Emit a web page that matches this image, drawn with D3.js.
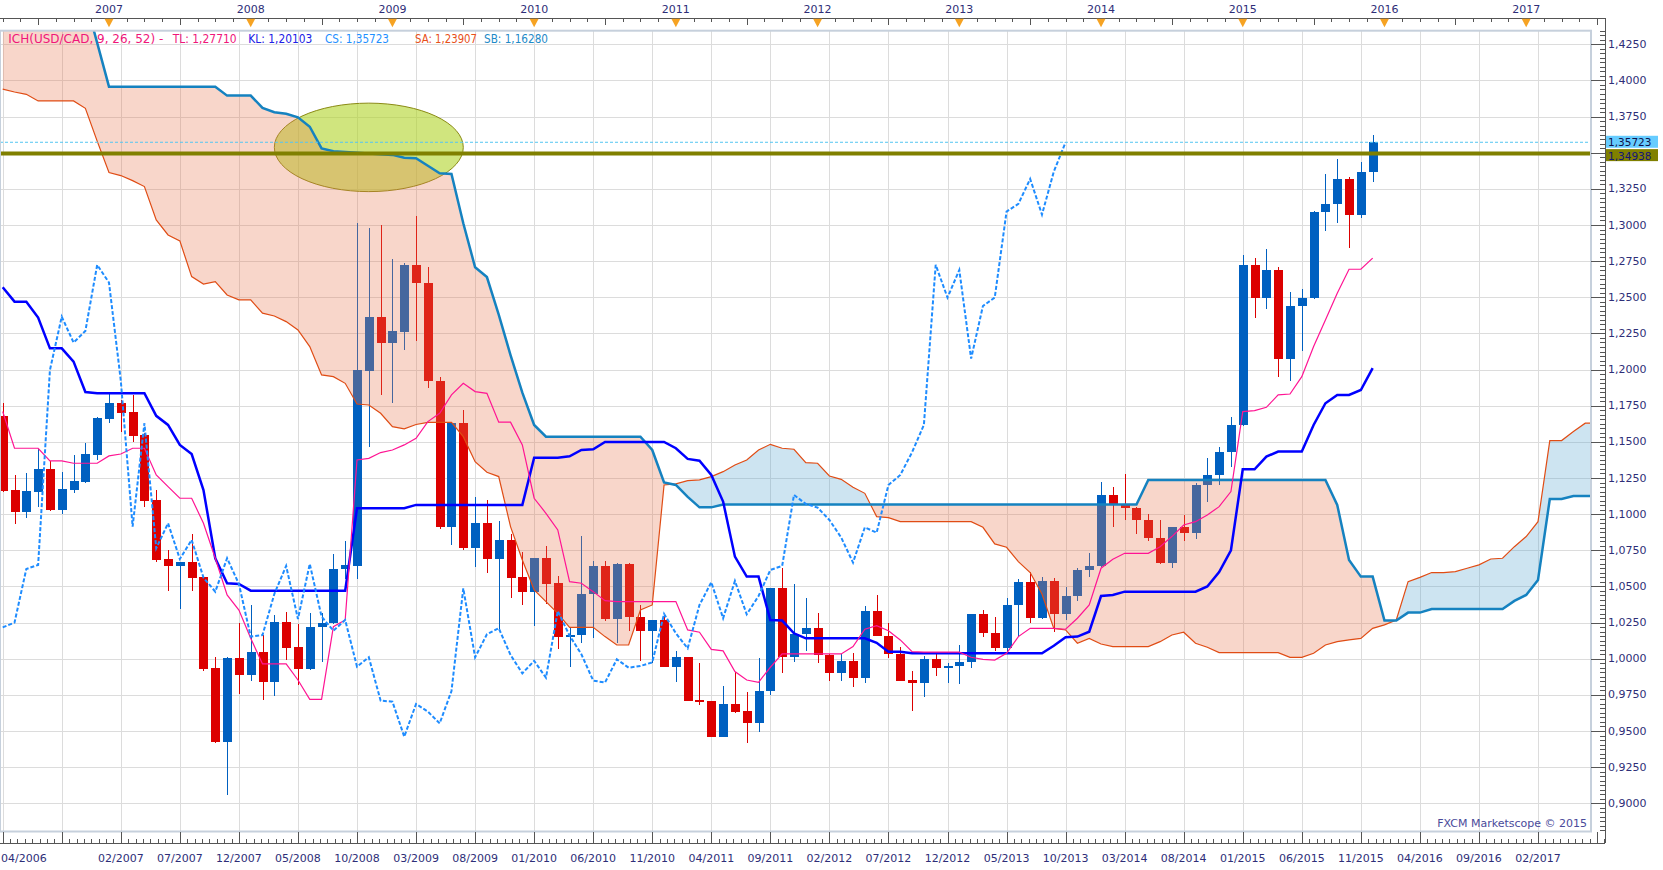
<!DOCTYPE html>
<html><head><meta charset="utf-8">
<script src="https://cdn.jsdelivr.net/npm/d3@7/dist/d3.min.js"></script>
<style>html,body{margin:0;padding:0;background:#fff;}svg{display:block;font-family:"DejaVu Sans",sans-serif;}</style>
</head><body>
<svg id="c" width="1663" height="870"></svg>
<script>
// ---------- DATA (monthly USD/CAD, first candle = 04/2006) ----------
const firstMonth = "04/2006";
const open = [1.1679,1.1167,1.1018,1.1156,1.1313,1.1029,1.1167,1.1225,1.1410,1.1659,
1.1772,1.1707,1.1548,1.1098,1.0690,1.0644,1.0669,1.0563,0.9934,0.9427,
1.0003,0.9888,1.0045,0.9842,1.0252,1.0079,0.9929,1.0217,1.0245,1.0621,
1.0644,1.1993,1.2366,1.2187,1.2263,1.2724,1.2602,1.1924,1.0914,1.1629,
1.0764,1.0937,1.0690,1.0822,1.0568,1.0464,1.0695,1.0522,1.0153,1.0164,
1.0448,1.0642,1.0275,1.0656,1.0291,1.0194,1.0268,0.9945,1.0010,0.9715,
0.9708,0.9461,0.9687,0.9639,0.9553,0.9777,1.0487,1.0010,1.0169,1.0211,
1.0026,0.9899,0.9985,0.9869,1.0330,1.0160,1.0031,0.9853,0.9835,0.9996,
0.9938,0.9950,0.9975,1.0310,1.0176,1.0072,1.0372,1.0529,1.0280,1.0538,
1.0307,1.0434,1.0614,1.0642,1.1133,1.1071,1.1045,1.0960,1.0838,1.0665,
1.0909,1.0872,1.1202,1.1271,1.1428,1.1617,1.2724,1.2498,1.2689,1.2076,
1.2440,1.2498,1.3093,1.3146,1.3319,1.3072,1.3369];
const high = [1.1767,1.1271,1.1283,1.1451,1.1368,1.1294,1.1410,1.1495,1.1670,1.1843,
1.1790,1.1825,1.1560,1.1167,1.0752,1.0672,1.0863,1.0565,1.0015,1.0010,
1.0245,1.0372,1.0164,1.0303,1.0326,1.0238,1.0319,1.0319,1.0725,1.0815,
1.3017,1.2982,1.3001,1.2763,1.2735,1.3063,1.2712,1.1951,1.1640,1.1721,
1.1121,1.1098,1.0953,1.0863,1.0741,1.0700,1.0780,1.0573,1.0222,1.0849,
1.0676,1.0676,1.0665,1.0660,1.0372,1.0268,1.0300,1.0054,1.0012,0.9968,
0.9710,0.9812,0.9911,0.9772,1.0008,1.0490,1.0626,1.0517,1.0418,1.0314,
1.0033,1.0033,1.0042,1.0365,1.0441,1.0250,1.0084,0.9918,1.0019,1.0049,
0.9968,1.0095,1.0310,1.0337,1.0291,1.0418,1.0549,1.0602,1.0568,1.0556,
1.0499,1.0626,1.0729,1.1225,1.1186,1.1278,1.1050,1.1001,1.0960,1.0912,
1.0995,1.1218,1.1386,1.1467,1.1675,1.2793,1.2774,1.2833,1.2708,1.2539,
1.2558,1.3100,1.3353,1.3455,1.3335,1.3438,1.3623];
const low = [1.1150,1.0932,1.0971,1.1048,1.1020,1.1000,1.1149,1.1218,1.1375,1.1629,
1.1571,1.1502,1.1052,1.0672,1.0471,1.0344,1.0471,0.9918,0.9420,0.9058,
0.9756,0.9849,0.9715,0.9745,0.9991,0.9819,0.9925,0.9980,1.0240,1.0552,
1.0552,1.1467,1.1824,1.1767,1.2136,1.2200,1.1871,1.0898,1.0787,1.0752,
1.0637,1.0596,1.0204,1.0423,1.0372,1.0229,1.0379,1.0065,0.9941,1.0107,
1.0146,1.0264,1.0107,1.0194,0.9985,0.9973,0.9941,0.9842,0.9710,0.9680,
0.9457,0.9457,0.9623,0.9415,0.9496,0.9750,0.9899,0.9980,1.0056,0.9973,
0.9846,0.9846,0.9807,0.9835,1.0160,1.0008,0.9849,0.9641,0.9738,0.9883,
0.9830,0.9823,0.9938,1.0153,1.0056,1.0038,1.0153,1.0250,1.0273,1.0187,
1.0268,1.0402,1.0568,1.0637,1.0914,1.0960,1.0863,1.0817,1.0653,1.0626,
1.0817,1.0826,1.1082,1.1202,1.1324,1.1610,1.2359,1.2417,1.1951,1.1924,
1.2131,1.2490,1.2961,1.3017,1.2839,1.3047,1.3300];
const close = [1.1163,1.1018,1.1160,1.1313,1.1029,1.1174,1.1230,1.1416,1.1665,1.1772,
1.1702,1.1543,1.1094,1.0683,1.0644,1.0669,1.0561,0.9929,0.9427,1.0003,
0.9888,1.0045,0.9842,1.0252,1.0077,0.9929,1.0217,1.0250,1.0621,1.0649,
1.1997,1.2366,1.2187,1.2267,1.2724,1.2602,1.1924,1.0914,1.1629,1.0764,
1.0937,1.0690,1.0822,1.0561,1.0464,1.0695,1.0517,1.0153,1.0164,1.0448,
1.0642,1.0275,1.0656,1.0291,1.0194,1.0268,0.9945,1.0010,0.9710,0.9703,
0.9461,0.9687,0.9634,0.9553,0.9777,1.0487,1.0010,1.0169,1.0211,1.0026,
0.9899,0.9985,0.9869,1.0330,1.0160,1.0031,0.9849,0.9835,0.9996,0.9938,
0.9950,0.9975,1.0310,1.0176,1.0072,1.0372,1.0529,1.0280,1.0538,1.0307,
1.0434,1.0614,1.0642,1.1133,1.1071,1.1045,1.0960,1.0838,1.0665,1.0909,
1.0872,1.1202,1.1271,1.1428,1.1617,1.2724,1.2498,1.2689,1.2076,1.2440,
1.2498,1.3093,1.3146,1.3319,1.3072,1.3369,1.35723];
// Tenkan (TL) and Kijun (KL), one value per candle
const tenkan = [1.1710,1.1456,1.1456,1.1456,1.1368,1.1368,1.1352,1.1352,1.1352,1.1403,
1.1416,1.1456,1.1456,1.1271,1.1190,1.1110,1.1110,1.0937,1.0695,1.0441,
1.0337,1.0141,0.9964,0.9964,0.9964,0.9853,0.9719,0.9719,1.0222,1.0268,
1.1375,1.1386,1.1426,1.1444,1.1479,1.1525,1.1640,1.1698,1.1825,1.1905,
1.1848,1.1836,1.1636,1.1636,1.1479,1.1110,1.1006,1.0891,1.0533,1.0522,
1.0464,1.0402,1.0395,1.0395,1.0395,1.0395,1.0395,1.0395,1.0199,1.0183,
1.0065,1.0054,0.9911,0.9853,0.9837,0.9941,1.0033,1.0033,1.0033,1.0033,
1.0033,1.0033,1.0084,1.0204,1.0229,1.0194,1.0130,1.0049,1.0045,1.0045,
1.0045,1.0045,1.0010,0.9995,0.9991,1.0038,1.0153,1.0210,1.0210,1.0210,
1.0204,1.0280,1.0372,1.0626,1.0688,1.0729,1.0729,1.0729,1.0775,1.0845,
1.0925,1.0948,1.0994,1.1052,1.1156,1.1709,1.1716,1.1739,1.1825,1.1831,
1.1951,1.2159,1.2343,1.2528,1.2694,1.2694,1.2771];
const kijun = [1.2570,1.2470,1.2470,1.2360,1.2147,1.2147,1.2055,1.1845,1.1836,1.1836,
1.1836,1.1836,1.1836,1.1680,1.1617,1.1479,1.1416,1.1167,1.0695,1.0522,
1.0517,1.0471,1.0471,1.0471,1.0471,1.0471,1.0471,1.0471,1.0471,1.0471,
1.1041,1.1041,1.1041,1.1041,1.1041,1.1064,1.1064,1.1064,1.1064,1.1064,
1.1064,1.1064,1.1064,1.1064,1.1064,1.1391,1.1391,1.1391,1.1400,1.1444,
1.1449,1.1499,1.1499,1.1499,1.1499,1.1499,1.1499,1.1456,1.1382,1.1370,
1.1271,1.1087,1.0706,1.0568,1.0568,1.0268,1.0264,1.0176,1.0141,1.0141,
1.0141,1.0141,1.0141,1.0141,1.0110,1.0049,1.0049,1.0038,1.0038,1.0038,
1.0038,1.0038,1.0038,1.0038,1.0038,1.0038,1.0038,1.0038,1.0038,1.0090,
1.0148,1.0153,1.0187,1.0434,1.0441,1.0464,1.0464,1.0464,1.0464,1.0464,
1.0464,1.0464,1.0500,1.0600,1.0750,1.1310,1.1310,1.1398,1.1433,1.1433,
1.1433,1.1617,1.1767,1.1825,1.1825,1.1859,1.2010];
// Senkou A / B as plotted (already displaced forward), from 04/2006 onward
const senkouA = [1.3940,1.3920,1.3904,1.3858,1.3858,1.3858,1.3858,1.3807,1.3580,1.3363,
1.3342,1.3307,1.3266,1.3035,1.2931,1.2890,1.2643,1.2592,1.2608,1.2516,
1.2482,1.2482,1.2390,1.2371,1.2332,1.2274,1.2159,1.1963,1.1951,1.1905,
1.1762,1.1755,1.1698,1.1605,1.1590,1.1620,1.1635,1.1635,1.1635,1.1536,
1.1363,1.1290,1.1260,1.0914,1.0683,1.0476,1.0395,1.0314,1.0217,1.0217,
1.0217,1.0153,1.0095,1.0095,1.0337,1.0372,1.1202,1.1209,1.1232,1.1237,
1.1260,1.1294,1.1340,1.1375,1.1444,1.1483,1.1456,1.1449,1.1357,1.1352,
1.1264,1.1241,1.1186,1.1144,1.0983,1.0976,1.0948,1.0948,1.0948,1.0948,
1.0948,1.0948,1.0948,1.0909,1.0794,1.0771,1.0672,1.0596,1.0448,1.0210,
1.0199,1.0107,1.0141,1.0102,1.0084,1.0084,1.0084,1.0084,1.0118,1.0164,
1.0183,1.0107,1.0079,1.0042,1.0042,1.0042,1.0042,1.0042,1.0042,1.0010,
1.0010,1.0038,1.0095,1.0118,1.0130,1.0141,1.0210,1.0234,1.0268,1.0533,
1.0563,1.0596,1.0596,1.0602,1.0626,1.0649,1.0690,1.0695,1.0775,1.0845,
1.0948,1.1509,1.1509,1.1571,1.1629,1.1629];
const senkouB = [1.4700,1.4700,1.4700,1.4700,1.4700,1.4700,1.4700,1.4560,1.4260,1.3957,
1.3957,1.3957,1.3957,1.3957,1.3957,1.3957,1.3957,1.3957,1.3957,1.3895,
1.3895,1.3895,1.3810,1.3780,1.3770,1.3745,1.3680,1.3530,1.3510,1.3505,
1.3500,1.3495,1.3490,1.3485,1.3466,1.3462,1.3410,1.3358,1.3353,1.3012,
1.2708,1.2640,1.2380,1.2100,1.1840,1.1617,1.1536,1.1536,1.1536,1.1536,
1.1536,1.1536,1.1536,1.1536,1.1536,1.1444,1.1220,1.1202,1.1120,1.1047,
1.1047,1.1066,1.1066,1.1066,1.1066,1.1066,1.1066,1.1066,1.1066,1.1066,
1.1066,1.1066,1.1066,1.1066,1.1066,1.1066,1.1066,1.1066,1.1066,1.1066,
1.1066,1.1066,1.1066,1.1066,1.1066,1.1066,1.1066,1.1066,1.1066,1.1066,
1.1066,1.1066,1.1066,1.1066,1.1066,1.1066,1.1066,1.1237,1.1237,1.1237,
1.1237,1.1237,1.1237,1.1237,1.1237,1.1237,1.1237,1.1237,1.1237,1.1237,
1.1237,1.1237,1.1237,1.1064,1.0683,1.0568,1.0568,1.0264,1.0264,1.0319,
1.0319,1.0344,1.0344,1.0344,1.0344,1.0344,1.0344,1.0344,1.0400,1.0441,
1.0545,1.1105,1.1105,1.1126,1.1126,1.1126];
const chikouShift = 26;           // chikou = close plotted 26 periods back
const levelLine = 1.34938;        // olive horizontal level
const lastPrice = 1.35723;
const legendParts = ["ICH(USD/CAD, 9, 26, 52) -","TL: 1,27710","KL: 1,20103","CS: 1,35723","SA: 1,23907","SB: 1,16280"];
const yearLabels = ["2007","2008","2009","2010","2011","2012","2013","2014","2015","2016","2017"];
const monthLabels = ["04/2006","02/2007","07/2007","12/2007","05/2008","10/2008","03/2009","08/2009","01/2010","06/2010","11/2010","04/2011","09/2011","02/2012","07/2012","12/2012","05/2013","10/2013","03/2014","08/2014","01/2015","06/2015","11/2015","04/2016","09/2016","02/2017"];
const priceTicks = [0.9000,0.9250,0.9500,0.9750,1.0000,1.0250,1.0500,1.0750,1.1000,1.1250,1.1500,1.1750,1.2000,1.2250,1.2500,1.2750,1.3000,1.3250,1.3500,1.3750,1.4000,1.4250];
const markIdx = [23, 39], markPrice = [1.3231, 1.3843]; // highlighted zone (ellipse)

// ---------- LAYOUT ----------
const W = 1663, H = 870;
const PL = 0, PR = 1591, PT = 30.7, PB = 831.5;
const AXR = 1605, AXT = 18.3, AXB = 843.3;
const x = d3.scaleLinear().domain([0, 130]).range([2.7, 1538.0]);
const y = d3.scaleLinear().domain([0.9, 1.425]).range([803.3, 44.3]);
const fmt = v => d3.format(".4f")(v).replace(".", ",");
const fmt5 = v => d3.format(".5f")(v).replace(".", ",");
const [fm, fy] = firstMonth.split("/").map(Number);
const idxOf = (m, yr) => (yr - fy) * 12 + (m - fm);
const txtCol = "#2e2e78";

const svg = d3.select("#c");
svg.append("rect").attr("width", W).attr("height", H).attr("fill", "#fff");
const defs = svg.append("defs");
defs.append("clipPath").attr("id", "plotClip").append("rect")
  .attr("x", PL).attr("y", PT).attr("width", PR - PL).attr("height", PB - PT);

const plot = svg.append("g").attr("clip-path", "url(#plotClip)");

// grid
const vIdx = d3.range(0, 136, 5);
plot.append("g").selectAll("line").data(vIdx).join("line")
  .attr("x1", d => Math.round(x(d)) + 0.5).attr("x2", d => Math.round(x(d)) + 0.5)
  .attr("y1", PT).attr("y2", PB).attr("stroke", "#dcdcdc").attr("stroke-width", 1);
plot.append("g").selectAll("line").data(priceTicks).join("line")
  .attr("x1", PL).attr("x2", PR)
  .attr("y1", d => Math.round(y(d)) + 0.5).attr("y2", d => Math.round(y(d)) + 0.5)
  .attr("stroke", "#dcdcdc").attr("stroke-width", 1);

// highlighted ellipse (under the cloud)
plot.append("ellipse")
  .attr("cx", (x(markIdx[0]) + x(markIdx[1])) / 2)
  .attr("cy", (y(markPrice[0]) + y(markPrice[1])) / 2)
  .attr("rx", (x(markIdx[1]) - x(markIdx[0])) / 2)
  .attr("ry", (y(markPrice[0]) - y(markPrice[1])) / 2)
  .attr("fill", "rgba(176,212,40,0.6)").attr("stroke", "#8a8a14").attr("stroke-width", 1);

// candles
const cIdx = d3.range(close.length);
const up = i => close[i] >= open[i];
const cg = plot.append("g").attr("shape-rendering", "crispEdges");
cg.selectAll("line").data(cIdx).join("line")
  .attr("x1", i => Math.round(x(i)) + 0.5).attr("x2", i => Math.round(x(i)) + 0.5)
  .attr("y1", i => y(high[i])).attr("y2", i => y(low[i]))
  .attr("stroke", i => up(i) ? "#0060c0" : "#dc0000").attr("stroke-width", 1);
cg.selectAll("rect").data(cIdx).join("rect")
  .attr("x", i => Math.round(x(i)) - 4).attr("width", 9)
  .attr("y", i => y(Math.max(open[i], close[i])))
  .attr("height", i => Math.max(1.5, y(Math.min(open[i], close[i])) - y(Math.max(open[i], close[i]))))
  .attr("fill", i => up(i) ? "#0060c0" : "#dc0000");

// cloud
const kIdx = d3.range(senkouA.length);
const band = d3.area().x(i => x(i)).y0(i => y(senkouA[i])).y1(i => y(senkouB[i]));
defs.append("clipPath").attr("id", "abv").append("path")
  .attr("d", d3.area().x(i => x(i)).y0(i => y(senkouA[i])).y1(-100)(kIdx));
defs.append("clipPath").attr("id", "blw").append("path")
  .attr("d", d3.area().x(i => x(i)).y0(i => y(senkouA[i])).y1(1100)(kIdx));
plot.append("path").attr("d", band(kIdx)).attr("fill", "rgba(232,120,80,0.30)").attr("clip-path", "url(#abv)");
plot.append("path").attr("d", band(kIdx)).attr("fill", "rgba(90,165,210,0.30)").attr("clip-path", "url(#blw)");

const lineOf = arr => d3.line().x(i => x(i)).y(i => y(arr[i]));
plot.append("path").attr("d", lineOf(senkouA)(kIdx)).attr("fill", "none").attr("stroke", "#e04c14").attr("stroke-width", 1.2);
plot.append("path").attr("d", lineOf(senkouB)(kIdx)).attr("fill", "none").attr("stroke", "#1582c0").attr("stroke-width", 2.5);
plot.append("path").attr("d", lineOf(kijun)(cIdx)).attr("fill", "none").attr("stroke", "#0000ff").attr("stroke-width", 2.5);
plot.append("path").attr("d", lineOf(tenkan)(cIdx)).attr("fill", "none").attr("stroke", "#ff1493").attr("stroke-width", 1.2);
const chIdx = d3.range(close.length - chikouShift);
plot.append("path")
  .attr("d", d3.line().x(i => x(i)).y(i => y(close[i + chikouShift]))(chIdx))
  .attr("fill", "none").attr("stroke", "#1e8cff").attr("stroke-width", 2).attr("stroke-dasharray", "4,2");

// level + last price lines
plot.append("line").attr("x1", PL).attr("x2", PR).attr("y1", y(levelLine)).attr("y2", y(levelLine))
  .attr("stroke", "#808000").attr("stroke-width", 4);
plot.append("line").attr("x1", PL).attr("x2", PR).attr("y1", y(lastPrice)).attr("y2", y(lastPrice))
  .attr("stroke", "#55c6f2").attr("stroke-width", 1).attr("stroke-dasharray", "3,2");

// legend
const legendX = [8.3, 172.7, 248.3, 325, 415, 484];
const legendW = [155, 64, 64, 64, 62, 64];
const legendC = ["#f0167a", "#f0167a", "#2020e6", "#1e90ff", "#e8501a", "#1e8ac8"];
svg.append("g").selectAll("text").data(legendParts).join("text")
  .attr("x", (d, k) => legendX[k]).attr("y", 39).attr("dominant-baseline", "central")
  .attr("font-size", 11.5).attr("fill", (d, k) => legendC[k])
  .attr("textLength", (d, k) => legendW[k]).attr("lengthAdjust", "spacingAndGlyphs")
  .text(d => d);

// plot border
svg.append("rect").attr("x", PL).attr("y", PT).attr("width", PR - PL).attr("height", PB - PT)
  .attr("fill", "none").attr("stroke", "#c6d0dc").attr("stroke-width", 2);

// watermark
svg.append("text").attr("x", PR - 4).attr("y", 823).attr("text-anchor", "end")
  .attr("dominant-baseline", "central").attr("font-size", 11).attr("fill", "#4a4a9a")
  .text("FXCM Marketscope \u00a9 2015");

// ---------- TOP AXIS ----------
const ax = svg.append("g").attr("shape-rendering", "crispEdges");
ax.append("line").attr("x1", 0).attr("x2", AXR).attr("y1", AXT).attr("y2", AXT).attr("stroke", "#555");
const topTicks = d3.range(0, 136, 1.5);
ax.selectAll(".tt").data(topTicks).join("line")
  .attr("x1", d => Math.round(x(d)) + 0.5).attr("x2", d => Math.round(x(d)) + 0.5)
  .attr("y1", AXT).attr("y2", d => ((d - 9) % 6 === 0) ? AXT + 7 : AXT + 4)
  .attr("stroke", "#555");
const yIdx = yearLabels.map(s => idxOf(1, +s));
svg.append("g").selectAll("text").data(yearLabels).join("text")
  .attr("x", (d, k) => x(yIdx[k])).attr("y", 9).attr("text-anchor", "middle")
  .attr("dominant-baseline", "central").attr("font-size", 11).attr("fill", txtCol).text(d => d);
svg.append("g").selectAll("path").data(yIdx).join("path")
  .attr("d", d => `M${x(d) - 4.5},${AXT + 0.5}L${x(d) + 4.5},${AXT + 0.5}L${x(d)},${AXT + 9}Z`)
  .attr("fill", "#f6a323");

// ---------- BOTTOM AXIS ----------
ax.append("line").attr("x1", 0).attr("x2", AXR).attr("y1", AXB).attr("y2", AXB).attr("stroke", "#555");
const botMinor = d3.range(0, 136, 0.625);
ax.selectAll(".bt").data(botMinor).join("line")
  .attr("x1", d => Math.round(x(d)) + 0.5).attr("x2", d => Math.round(x(d)) + 0.5)
  .attr("y1", AXB).attr("y2", d => (d % 5 === 0) ? PB : AXB - 4)
  .attr("stroke", "#555");
const mIdx = monthLabels.map(s => { const [m, yr] = s.split("/").map(Number); return idxOf(m, yr); });
svg.append("g").selectAll("text").data(monthLabels).join("text")
  .attr("x", (d, k) => k === 0 ? 1 : x(mIdx[k])).attr("y", 858.5)
  .attr("text-anchor", (d, k) => k === 0 ? "start" : "middle")
  .attr("dominant-baseline", "central").attr("font-size", 11).attr("fill", txtCol).text(d => d);

// ---------- RIGHT AXIS ----------
ax.append("line").attr("x1", AXR + 0.5).attr("x2", AXR + 0.5).attr("y1", AXT).attr("y2", AXB).attr("stroke", "#555");
const minorP = d3.range(0.875, 1.44, 0.003125).filter(v => y(v) > PT && y(v) < PB);
ax.selectAll(".rm").data(minorP).join("line")
  .attr("x1", AXR - 5).attr("x2", AXR)
  .attr("y1", d => Math.round(y(d)) + 0.5).attr("y2", d => Math.round(y(d)) + 0.5).attr("stroke", "#555");
ax.selectAll(".rM").data(priceTicks).join("line")
  .attr("x1", PR).attr("x2", AXR)
  .attr("y1", d => Math.round(y(d)) + 0.5).attr("y2", d => Math.round(y(d)) + 0.5).attr("stroke", "#555");
// tick labels (the 1,3500 label sits under the price tags, as in the original)
svg.append("g").selectAll("text").data(priceTicks.filter(v => Math.abs(v - levelLine) > 0.004)).join("text")
  .attr("x", AXR + 3).attr("y", d => y(d)).attr("dominant-baseline", "central")
  .attr("font-size", 11).attr("fill", txtCol).text(d => fmt(d));

// price tags: level tag first, last-price tag on top of it
const lvlY = y(levelLine) + 1.5, lastY = y(lastPrice) - 0.5;
svg.append("rect").attr("x", AXR + 1).attr("y", lvlY - 6).attr("width", 52).attr("height", 12).attr("fill", "#808000");
svg.append("text").attr("x", AXR + 3).attr("y", lvlY + 0.5).attr("dominant-baseline", "central")
  .attr("font-size", 10.5).attr("fill", "#14147a").text(fmt5(levelLine));
svg.append("rect").attr("x", AXR + 1).attr("y", lastY - 6).attr("width", 52).attr("height", 12).attr("fill", "#66ccff");
svg.append("text").attr("x", AXR + 3).attr("y", lastY).attr("dominant-baseline", "central")
  .attr("font-size", 10.5).attr("fill", "#10104a").text(fmt5(lastPrice));
</script>
</body></html>
